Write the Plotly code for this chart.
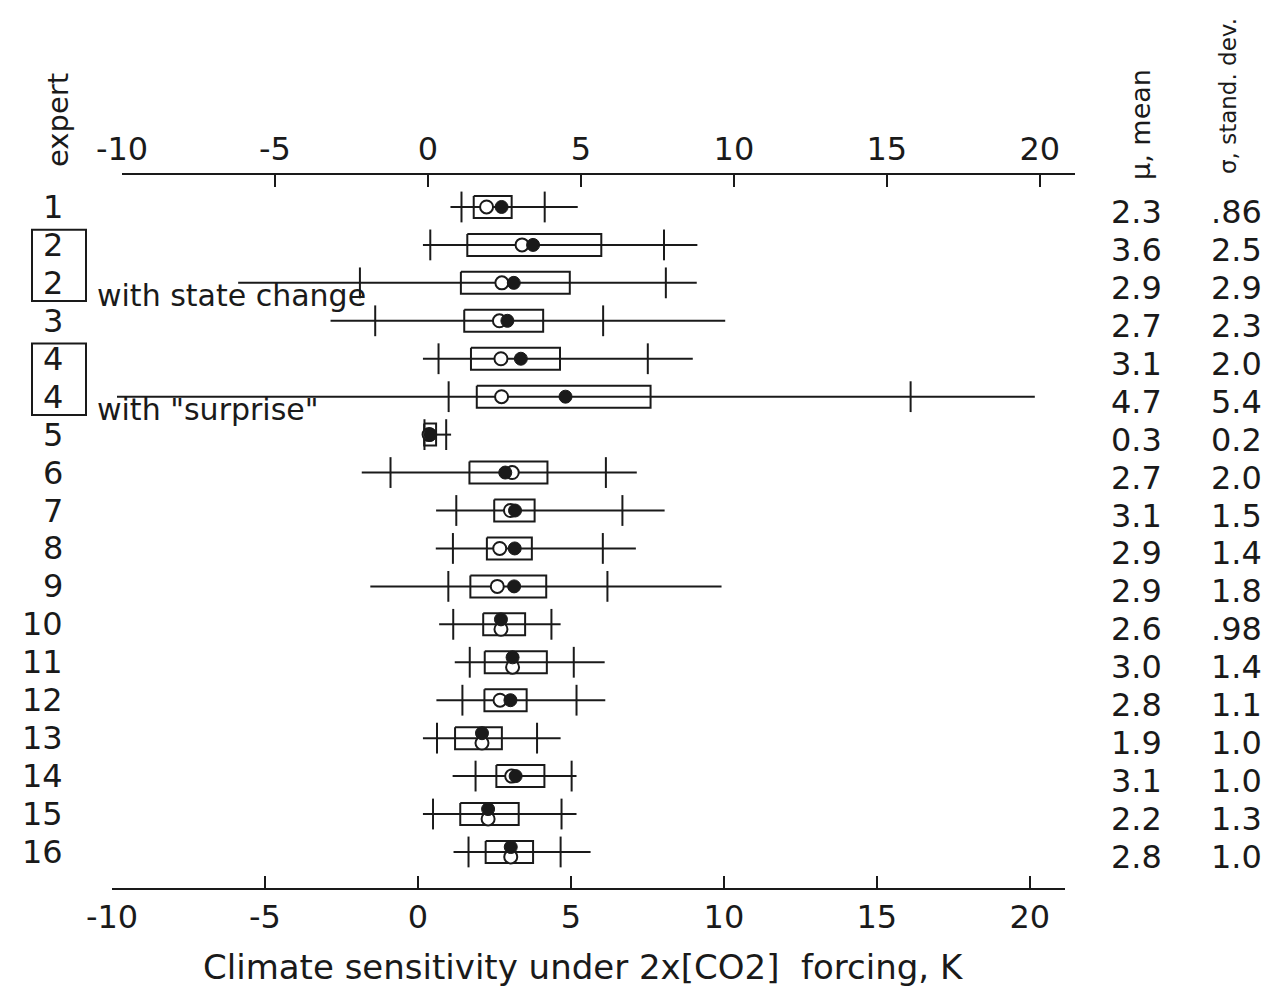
import plotly.graph_objects as go

# ---------------- data ----------------
experts = ["1", "2", "2", "3", "4", "4", "5", "6", "7", "8", "9",
           "10", "11", "12", "13", "14", "15", "16"]
row_notes = {2: "with state change", 5: 'with "surprise"'}
boxed_groups = [(1, 2), (4, 5)]  # row index ranges framed around expert labels

lo_end = [0.90, 0.00, -6.04, -3.02, 0.00, -10.2, 0.00, -2.00, 0.43, 0.42, -1.72,
          0.53, 1.04, 0.44, 0.00, 0.97, 0.00, 1.00]
p05 = [1.26, 0.24, -2.06, -1.56, 0.51, 0.84, 0.05, -1.06, 1.09, 0.98, 0.83,
       0.99, 1.53, 1.29, 0.46, 1.72, 0.33, 1.49]
q25 = [1.66, 1.45, 1.24, 1.35, 1.57, 1.76, 0.04, 1.52, 2.33, 2.09, 1.55,
       1.97, 2.02, 2.01, 1.05, 2.40, 1.22, 2.05]
median = [2.08, 3.24, 2.58, 2.50, 2.55, 2.57, 0.20, 2.92, 2.86, 2.51, 2.43,
          2.55, 2.93, 2.52, 1.93, 2.90, 2.13, 2.87]
mean_pt = [2.57, 3.60, 2.97, 2.76, 3.20, 4.66, 0.24, 2.69, 3.01, 3.00, 2.98,
           2.55, 2.93, 2.86, 1.93, 3.03, 2.13, 2.87]
q75 = [2.90, 5.83, 4.80, 3.93, 4.48, 7.44, 0.43, 4.07, 3.65, 3.56, 4.03,
       3.34, 4.05, 3.39, 2.58, 3.97, 3.13, 3.60]
p95 = [3.98, 7.88, 7.94, 5.89, 7.35, 15.94, 0.76, 5.98, 6.52, 5.88, 6.03,
       4.20, 4.93, 5.02, 3.73, 4.86, 4.53, 4.50]
hi_end = [5.06, 8.97, 8.95, 9.88, 8.82, 20.0, 0.92, 6.99, 7.90, 6.96, 9.76,
          4.50, 5.94, 5.96, 4.50, 5.02, 5.02, 5.48]

mean_text = ["2.3", "3.6", "2.9", "2.7", "3.1", "4.7", "0.3", "2.7", "3.1", "2.9",
             "2.9", "2.6", "3.0", "2.8", "1.9", "3.1", "2.2", "2.8"]
sd_text = [".86", "2.5", "2.9", "2.3", "2.0", "5.4", "0.2", "2.0", "1.5", "1.4",
           "1.8", ".98", "1.4", "1.1", "1.0", "1.0", "1.3", "1.0"]

x_ticks = [-10, -5, 0, 5, 10, 15, 20]
x_tick_text = ["-10", "-5", "0", "5", "10", "15", "20"]
x_title = "Climate sensitivity under 2x[CO2]  forcing, K"

# ---------------- styling constants ----------------
W, H = 1270, 986
OFF = 8  # browser body margin
FONT = "DejaVu Sans"
INK = "#1a1a1a"
XR = [-10, 21.15]
BOX_H = 0.29      # half height of boxes, in row units
PAIR_OFF = 0.13   # vertical split when mean and median coincide


def px(x):
    return (x - OFF) / W


def py(y):
    return 1 - (y - OFF) / H


rows = list(range(len(experts)))

fig = go.Figure()

# whiskers
wx, wy = [], []
for i in rows:
    wx += [lo_end[i], hi_end[i], None]
    wy += [i, i, None]
fig.add_trace(go.Scatter(x=wx, y=wy, mode="lines", line=dict(color=INK, width=2),
                         hoverinfo="skip", showlegend=False))

# boxes
bx, by = [], []
for i in rows:
    bx += [q25[i], q75[i], q75[i], q25[i], q25[i], None]
    by += [i - BOX_H, i - BOX_H, i + BOX_H, i + BOX_H, i - BOX_H, None]
fig.add_trace(go.Scatter(x=bx, y=by, mode="lines", line=dict(color=INK, width=2),
                         hoverinfo="skip", showlegend=False))

# 5th / 95th percentile ticks
tx, ty = [], []
for i in rows:
    tx += [p05[i], p95[i]]
    ty += [i, i]
fig.add_trace(go.Scatter(x=tx, y=ty, mode="markers",
                         marker=dict(symbol="line-ns", size=22,
                                     line=dict(color=INK, width=2)),
                         hoverinfo="skip", showlegend=False))

# median (open) and mean (filled)
med_y, mean_y = [], []
for i in rows:
    if abs(mean_pt[i] - median[i]) < 0.05 and i != 6:
        med_y.append(i + PAIR_OFF)
        mean_y.append(i - PAIR_OFF)
    else:
        med_y.append(i)
        mean_y.append(i)
fig.add_trace(go.Scatter(x=median, y=med_y, mode="markers",
                         marker=dict(symbol="circle", size=13, color="white",
                                     line=dict(color=INK, width=2)),
                         name="median", showlegend=False))
fig.add_trace(go.Scatter(x=mean_pt, y=mean_y, mode="markers",
                         marker=dict(symbol="circle", size=13, color=INK,
                                     line=dict(color=INK, width=1)),
                         name="mean", showlegend=False))

# invisible traces so the top and bottom axes are drawn
for ax in ["x2", "x3"]:
    fig.add_trace(go.Scatter(x=[x_ticks[0]], y=[0], xaxis=ax, yaxis="y",
                             mode="markers", marker=dict(opacity=0),
                             hoverinfo="skip", showlegend=False))

axis_common = dict(range=XR, tickvals=x_ticks, ticktext=x_tick_text,
                   ticks="inside", ticklen=12,
                   tickwidth=2, tickcolor=INK, showline=True, linewidth=2,
                   linecolor=INK, showgrid=False, zeroline=False, automargin=False,
                   tickfont=dict(family=FONT, size=32, color=INK), anchor="y")

fig.update_layout(
    width=W, height=H,
    margin=dict(l=0, r=0, t=0, b=0, pad=0, autoexpand=False),
    paper_bgcolor="white", plot_bgcolor="rgba(0,0,0,0)",
    font=dict(family=FONT, color=INK),
    xaxis=dict(domain=[px(117), px(1070)], range=XR, visible=False,
               anchor="y", automargin=False),
    xaxis2=dict(domain=[px(122), px(1075)], side="top", **axis_common),
    xaxis3=dict(domain=[px(112), px(1065)], side="bottom", **axis_common),
    yaxis=dict(domain=[py(888), py(175)], range=[17.95, -0.843], visible=False,
               automargin=False),
    showlegend=False,
)

ann = []
for i in rows:
    ann.append(dict(x=px(65), xref="paper", y=i, yref="y", text=experts[i],
                    xanchor="right", yanchor="middle", showarrow=False,
                    font=dict(size=32, family=FONT, color=INK)))
    ann.append(dict(x=px(1164), xref="paper", y=i, yref="y", text=mean_text[i],
                    xanchor="right", yanchor="middle", yshift=-5, showarrow=False,
                    font=dict(size=32, family=FONT, color=INK)))
    ann.append(dict(x=px(1264), xref="paper", y=i, yref="y", text=sd_text[i],
                    xanchor="right", yanchor="middle", yshift=-5, showarrow=False,
                    font=dict(size=32, family=FONT, color=INK)))
for i, note in row_notes.items():
    ann.append(dict(x=px(95), xref="paper", y=i, yref="y", text=note,
                    xanchor="left", yanchor="middle", yshift=-13, showarrow=False,
                    font=dict(size=30, family=FONT, color=INK)))

ann.append(dict(x=px(58), xref="paper", y=py(120), yref="paper", text="expert",
                textangle=-90, xanchor="center", yanchor="middle", showarrow=False,
                font=dict(size=29, family=FONT, color=INK)))
ann.append(dict(x=px(1140), xref="paper", y=py(125), yref="paper", text="μ, mean",
                textangle=-90, xanchor="center", yanchor="middle", showarrow=False,
                font=dict(size=27, family=FONT, color=INK)))
ann.append(dict(x=px(1228), xref="paper", y=py(96), yref="paper",
                text="σ, stand. dev.", textangle=-90, xanchor="center",
                yanchor="middle", showarrow=False,
                font=dict(size=23, family=FONT, color=INK)))
ann.append(dict(x=px(583), xref="paper", y=py(967), yref="paper", text=x_title,
                xanchor="center", yanchor="middle", showarrow=False,
                font=dict(size=34, family=FONT, color=INK)))
fig.update_layout(annotations=ann)

shapes = []
for a, b in boxed_groups:
    shapes.append(dict(type="rect", xref="paper", yref="y", x0=px(32), x1=px(86),
                       y0=a - 0.4, y1=b + 0.48, line=dict(color=INK, width=2)))
fig.update_layout(shapes=shapes)

fig.write_html("out.html")
